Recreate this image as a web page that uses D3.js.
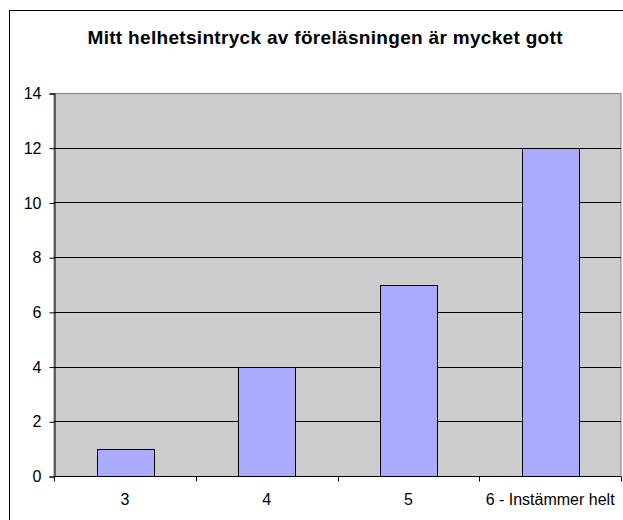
<!DOCTYPE html>
<html>
<head>
<meta charset="utf-8">
<script src="https://cdn.jsdelivr.net/npm/d3@7"></script>
<style>
  body { margin: 0; background: #fff; }
  text { font-family: "Liberation Sans", Arial, sans-serif; fill: #000; }
</style>
</head>
<body>
<div id="chart"></div>
<script>
var title = "Mitt helhetsintryck av föreläsningen är mycket gott";
var categories = ["3", "4", "5", "6 - Instämmer helt"];
var counts = [1, 4, 7, 12];
var yTicks = [0, 2, 4, 6, 8, 10, 12, 14];

var width = 623;
var height = 520;
var plot = { left: 54, top: 93, right: 621, bottom: 476 };

var svg = d3.select("#chart").append("svg")
  .attr("width", width)
  .attr("height", height);

// chart frame (cropped on right and bottom)
svg.append("rect")
  .attr("x", 9.5)
  .attr("y", 10.5)
  .attr("width", 640)
  .attr("height", 540)
  .attr("fill", "#fff")
  .attr("stroke", "#000");

svg.append("text")
  .attr("x", 325)
  .attr("y", 44)
  .attr("text-anchor", "middle")
  .attr("textLength", 475)
  .attr("lengthAdjust", "spacing")
  .style("font-size", "19px")
  .style("font-weight", "bold")
  .text(title);

var x = d3.scaleBand()
  .domain(categories)
  .range([plot.left, plot.right])
  .paddingInner(0.6)
  .paddingOuter(0.3);

var y = d3.scaleLinear()
  .domain([0, 14])
  .range([plot.bottom, plot.top]);

svg.append("rect")
  .attr("x", plot.left)
  .attr("y", plot.top + 0.5)
  .attr("width", plot.right - plot.left)
  .attr("height", plot.bottom - plot.top)
  .attr("fill", "#cccccc")
  .attr("stroke", "#808080");

svg.append("g")
  .selectAll("line")
  .data(yTicks.filter(function(d) { return d > 0 && d < 14; }))
  .enter().append("line")
    .attr("x1", plot.left)
    .attr("x2", plot.right)
    .attr("y1", function(d) { return Math.round(y(d)) + 0.5; })
    .attr("y2", function(d) { return Math.round(y(d)) + 0.5; })
    .attr("stroke", "#000");

svg.append("g")
  .selectAll("rect")
  .data(counts)
  .enter().append("rect")
    .attr("x", function(d, i) { return Math.round(x(categories[i])) + 0.5; })
    .attr("y", function(d) { return Math.round(y(d)) + 0.5; })
    .attr("width", Math.round(x.bandwidth()))
    .attr("height", function(d) { return Math.round(y(0)) - Math.round(y(d)); })
    .attr("fill", "#aaaaff")
    .attr("stroke", "#000");

var yAxis = d3.axisLeft(y)
  .tickValues(yTicks)
  .tickSize(5)
  .tickPadding(8)
  .tickFormat(d3.format("d"));

var gy = svg.append("g")
  .attr("transform", "translate(" + (plot.left + 0.5) + ",0.5)")
  .call(yAxis);
gy.selectAll("text")
  .style("font-size", "16px")
  .style("font-family", "'Liberation Sans', Arial, sans-serif");
gy.select(".domain").attr("stroke", "#000");

var gx = svg.append("g")
  .attr("transform", "translate(0," + (plot.bottom + 0.5) + ")");
gx.append("line")
  .attr("x1", plot.left)
  .attr("x2", plot.right)
  .attr("stroke", "#000");
var bounds = d3.range(categories.length + 1).map(function(i) {
  return plot.left + i * (plot.right - plot.left) / categories.length;
});
gx.selectAll("line.tick")
  .data(bounds)
  .enter().append("line")
    .attr("class", "tick")
    .attr("x1", function(d) { return Math.round(d) + 0.5; })
    .attr("x2", function(d) { return Math.round(d) + 0.5; })
    .attr("y2", 5)
    .attr("stroke", "#000");
gx.selectAll("text")
  .data(categories)
  .enter().append("text")
    .attr("x", function(d) { return x(d) + x.bandwidth() / 2; })
    .attr("y", 28)
    .attr("text-anchor", "middle")
    .style("font-size", "16px")
    .text(function(d) { return d; });
</script>
</body>
</html>
